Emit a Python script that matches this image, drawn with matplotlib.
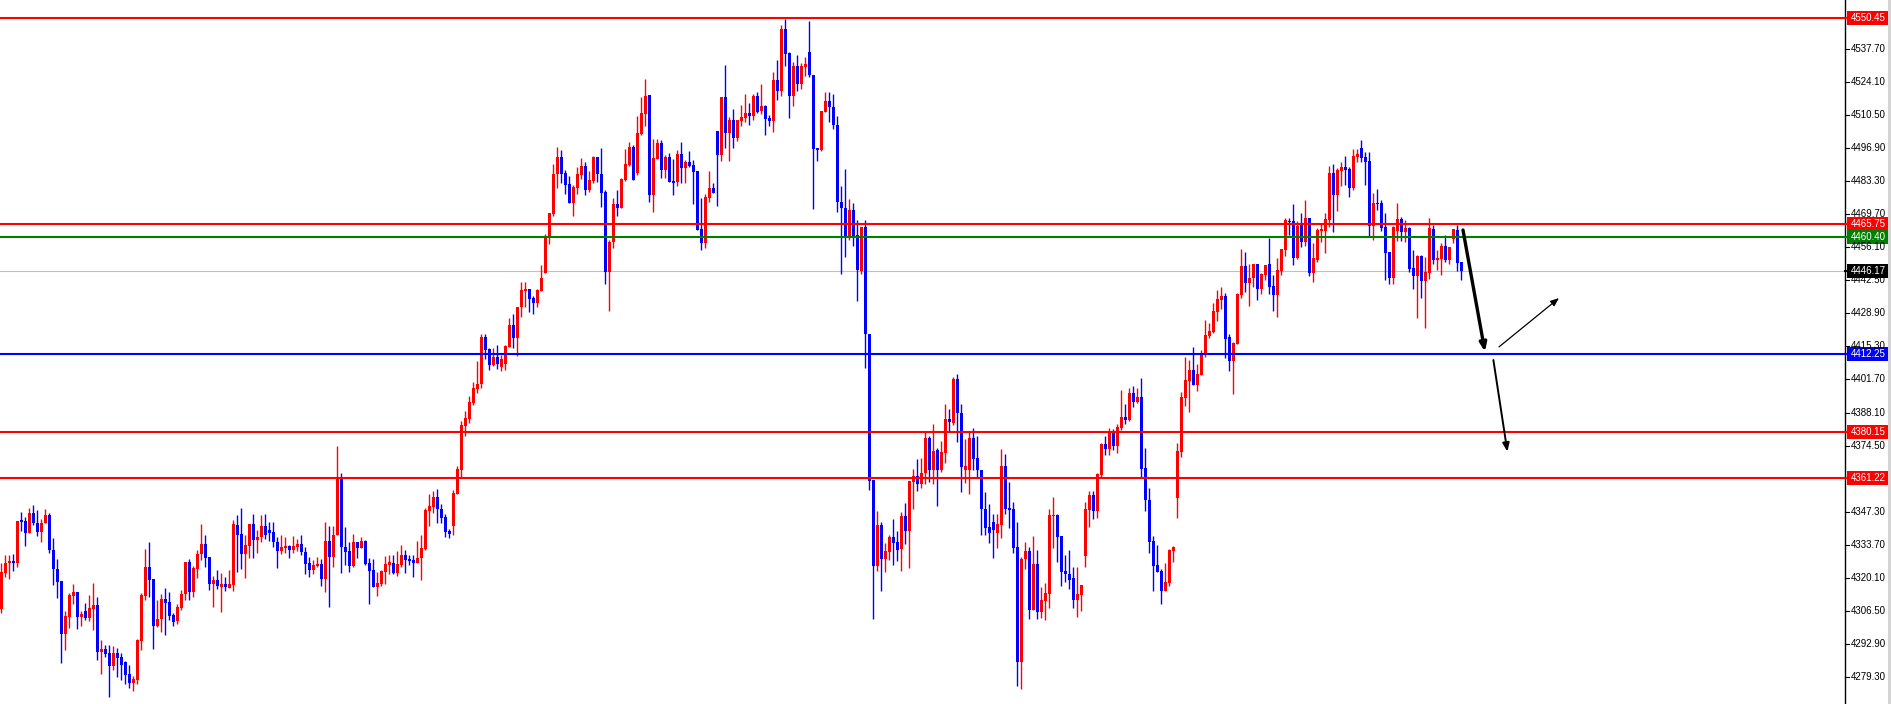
import matplotlib
matplotlib.use("Agg")
import matplotlib.pyplot as plt
from matplotlib.patches import Rectangle
from matplotlib.lines import Line2D

# ---------------- data ----------------
opens = [
4307.2,4322.2,4326.0,4327.0,4326.0,4343.5,4343.5,4338.7,4346.8,4342.8,
4339.1,4342.5,4345.9,4331.5,4323.6,4318.8,4297.0,4304.1,4312.7,4314.2,
4304.1,4306.4,4303.7,4307.2,4308.9,4289.7,4290.8,4289.1,4283.9,4289.1,
4287.5,4285.6,4280.5,4276.8,4278.0,4294.2,4312.7,4324.5,4319.6,4300.4,
4303.0,4311.4,4310.3,4304.8,4302.3,4307.5,4313.6,4326.6,4314.4,4323.8,
4329.7,4334.0,4328.8,4317.7,4319.0,4316.4,4317.5,4316.0,4317.2,4341.8,
4338.1,4330.0,4333.3,4342.2,4335.8,4336.7,4341.4,4339.8,4338.9,4334.9,
4331.3,4332.5,4333.3,4331.5,4332.8,4334.0,4330.7,4326.2,4323.2,4325.0,
4325.8,4319.7,4335.2,4328.8,4337.7,4361.3,4332.9,4331.1,4325.1,4334.7,
4332.5,4335.2,4326.0,4323.3,4316.4,4317.5,4322.6,4325.4,4326.0,4322.2,
4325.4,4329.5,4327.9,4327.4,4326.3,4328.1,4332.0,4347.7,4349.4,4353.3,
4348.5,4345.2,4339.3,4341.5,4354.7,4364.5,4382.7,4385.6,4392.2,4397.9,
4399.8,4419.3,4414.2,4407.8,4410.8,4407.0,4408.0,4415.2,4424.1,4418.9,
4431.4,4438.3,4438.8,4435.4,4433.3,4438.2,4445.7,4460.0,4469.8,4486.1,
4493.3,4486.7,4482.1,4474.5,4480.5,4486.0,4489.5,4479.7,4483.5,4493.3,
4486.4,4478.8,4445.8,4458.1,4473.9,4472.4,4483.8,4490.1,4497.2,4486.8,
4502.9,4510.9,4518.6,4477.6,4492.4,4499.0,4487.9,4493.4,4483.4,4482.8,
4494.5,4488.7,4491.2,4490.1,4487.5,4463.6,4457.8,4476.5,4480.5,4503.9,
4494.1,4517.9,4503.3,4508.5,4501.1,4508.1,4509.3,4511.4,4510.1,4518.4,
4512.2,4514.2,4509.4,4508.1,4524.9,4520.4,4545.9,4536.0,4518.5,4530.7,
4523.4,4530.4,4536.5,4527.0,4496.9,4496.3,4511.9,4516.4,4514.0,4506.5,
4474.6,4472.4,4460.7,4471.5,4461.0,4446.4,4464.3,4420.6,4360.4,4325.0,
4341.8,4328.0,4330.7,4336.8,4334.8,4332.0,4345.4,4339.2,4359.7,4362.0,
4358.8,4363.3,4377.6,4364.5,4372.6,4364.5,4371.5,4385.3,4383.7,4401.9,
4388.1,4364.5,4364.5,4377.6,4369.3,4364.5,4348.6,4340.8,4342.9,4338.7,
4342.0,4366.1,4348.9,4348.4,4332.7,4285.6,4327.8,4331.1,4307.0,4325.9,
4306.1,4310.7,4313.5,4345.5,4346.1,4337.4,4323.0,4321.8,4320.0,4311.1,
4313.1,4329.2,4348.1,4354.2,4347.7,4362.5,4375.3,4373.2,4380.1,4374.5,
4381.9,4386.2,4385.1,4396.1,4392.6,4394.5,4365.3,4352.2,4335.2,4325.3,
4323.0,4314.8,4318.1,4331.1,4353.1,4372.0,4394.2,4401.2,4405.6,4399.6,
4403.5,4412.2,4419.6,4421.4,4429.6,4434.4,4436.0,4419.2,4409.4,4416.4,
4436.6,4448.4,4441.5,4443.5,4449.2,4439.1,4444.8,4449.2,4440.2,4436.6,
4446.5,4455.0,4467.1,4466.9,4451.8,4465.3,4458.4,4468.1,4445.6,4451.0,
4462.9,4462.8,4467.5,4486.7,4477.6,4487.5,4489.1,4488.3,4480.6,4493.4,
4497.0,4493.2,4491.6,4465.0,4474.3,4474.3,4464.4,4454.2,4443.6,4462.8,
4467.7,4462.5,4464.2,4447.6,4444.4,4452.5,4442.4,4445.6,4463.6,4451.0,
4451.3,4456.6,4451.0,4459.6,4463.2,4450.1]

highs = [
4326.0,4329.5,4329.5,4329.9,4343.5,4347.0,4345.2,4348.7,4350.0,4348.0,
4344.1,4348.3,4346.6,4336.3,4327.8,4318.8,4306.4,4313.7,4317.5,4314.2,
4306.4,4309.6,4313.0,4317.9,4312.3,4294.5,4292.6,4292.6,4292.0,4291.1,
4289.0,4285.8,4284.2,4279.7,4295.0,4313.7,4332.1,4335.0,4319.6,4311.0,
4313.4,4316.0,4314.4,4305.5,4309.2,4315.1,4326.6,4327.8,4325.1,4331.5,
4342.2,4337.7,4328.8,4320.8,4323.3,4321.9,4320.3,4323.3,4343.9,4345.9,
4348.7,4337.7,4342.2,4346.3,4339.8,4345.9,4346.3,4342.9,4343.0,4336.9,
4337.7,4337.0,4333.6,4337.3,4336.1,4337.7,4332.8,4328.6,4327.4,4328.8,
4327.7,4343.0,4341.4,4341.4,4374.3,4363.4,4341.1,4335.0,4338.1,4335.0,
4337.0,4335.6,4328.1,4327.8,4322.6,4323.3,4329.2,4329.5,4329.5,4331.3,
4333.6,4331.5,4329.5,4329.5,4335.4,4337.7,4348.7,4354.6,4355.9,4356.5,
4350.5,4346.3,4340.3,4356.4,4366.1,4384.6,4388.7,4394.9,4400.5,4409.4,
4420.3,4420.5,4414.6,4414.5,4415.9,4411.8,4415.9,4427.1,4428.7,4431.7,
4442.0,4442.0,4438.8,4436.0,4439.1,4448.8,4461.6,4470.2,4490.4,4497.2,
4496.1,4487.9,4485.4,4481.6,4489.0,4492.7,4491.1,4487.5,4493.8,4493.3,
4497.0,4479.7,4459.1,4476.5,4479.7,4484.5,4496.4,4499.4,4498.2,4510.3,
4517.9,4525.4,4518.9,4500.5,4500.8,4500.2,4493.9,4495.0,4492.4,4496.1,
4499.4,4492.0,4495.6,4492.0,4487.5,4476.2,4478.0,4487.4,4482.4,4503.9,
4517.9,4531.1,4509.8,4513.0,4508.5,4514.6,4519.2,4515.5,4519.2,4520.1,
4523.3,4514.6,4510.5,4528.2,4533.2,4547.4,4550.0,4536.3,4532.3,4535.2,
4531.8,4534.5,4549.2,4527.0,4496.9,4512.2,4520.1,4520.1,4519.1,4510.2,
4481.4,4488.4,4476.0,4474.4,4467.4,4464.6,4467.4,4420.6,4360.4,4347.5,
4343.0,4334.3,4337.6,4344.3,4339.5,4347.0,4350.8,4360.1,4364.9,4368.9,
4369.3,4380.1,4378.4,4383.2,4373.4,4376.3,4391.5,4389.7,4402.7,4403.9,
4391.8,4377.1,4380.1,4381.7,4378.4,4364.5,4355.5,4350.3,4346.3,4346.3,
4373.1,4371.0,4359.5,4351.3,4343.0,4328.8,4334.8,4332.8,4337.4,4331.5,
4316.3,4317.9,4348.4,4353.3,4346.5,4337.4,4329.5,4331.5,4324.7,4324.7,
4317.1,4351.3,4355.9,4355.9,4363.4,4375.7,4378.4,4381.7,4381.3,4383.4,
4397.4,4391.7,4398.2,4399.0,4398.2,4402.3,4373.5,4357.0,4337.4,4333.6,
4323.7,4326.3,4331.9,4333.3,4375.7,4396.7,4411.0,4409.7,4415.0,4408.1,
4413.8,4426.2,4424.8,4433.3,4438.5,4439.6,4437.1,4420.4,4417.2,4437.1,
4455.3,4454.3,4449.2,4449.2,4449.2,4445.4,4448.9,4459.9,4444.7,4451.5,
4455.4,4468.1,4468.1,4473.9,4466.9,4470.2,4475.6,4468.1,4457.7,4464.2,
4465.5,4470.2,4489.5,4490.2,4488.6,4491.1,4493.7,4489.1,4496.5,4496.5,
4500.2,4495.3,4495.3,4478.4,4479.9,4475.6,4470.2,4454.2,4465.0,4474.3,
4468.6,4467.3,4464.6,4455.0,4452.9,4452.9,4452.2,4468.2,4465.3,4455.0,
4458.0,4461.3,4456.4,4463.8,4465.4,4450.1]

lows = [
4305.5,4320.6,4319.5,4323.0,4324.7,4339.3,4333.3,4338.7,4341.8,4337.3,
4335.0,4342.5,4330.4,4317.3,4311.6,4285.2,4290.4,4299.6,4309.3,4299.2,
4300.4,4302.7,4302.4,4298.6,4286.3,4280.5,4287.6,4271.2,4282.1,4279.4,
4278.0,4276.2,4274.6,4273.6,4276.4,4290.4,4311.0,4312.3,4290.8,4300.0,
4297.9,4296.6,4302.7,4300.4,4301.2,4306.8,4311.0,4311.0,4312.3,4320.1,
4327.4,4324.7,4315.1,4308.2,4315.5,4306.2,4314.8,4315.7,4314.8,4322.6,
4323.7,4320.1,4328.4,4328.4,4330.2,4335.0,4336.1,4335.4,4332.9,4324.3,
4329.7,4330.4,4328.4,4330.4,4331.1,4329.5,4321.8,4320.6,4321.5,4324.7,
4316.9,4314.4,4308.2,4324.7,4337.7,4321.9,4325.4,4322.6,4324.4,4328.4,
4332.5,4325.4,4309.2,4316.4,4312.6,4316.9,4317.5,4321.5,4321.6,4320.8,
4324.4,4322.2,4325.4,4320.5,4326.0,4319.2,4331.5,4341.5,4346.9,4342.8,
4342.5,4336.7,4336.3,4337.8,4354.7,4361.7,4378.4,4383.9,4391.2,4396.0,
4398.3,4410.0,4405.6,4407.2,4405.9,4405.0,4405.5,4414.9,4414.5,4411.5,
4427.6,4431.7,4429.6,4428.5,4431.4,4438.2,4445.7,4457.6,4469.0,4480.6,
4482.4,4478.0,4474.5,4469.1,4477.9,4484.3,4477.8,4479.0,4482.6,4483.1,
4472.8,4441.0,4430.0,4455.7,4469.1,4472.4,4483.4,4489.5,4483.8,4485.7,
4502.3,4506.1,4474.9,4470.8,4492.3,4484.8,4484.5,4482.8,4477.6,4481.4,
4482.4,4482.4,4489.3,4473.9,4463.2,4455.0,4455.7,4474.9,4478.3,4473.1,
4491.6,4497.1,4491.6,4497.1,4499.8,4505.9,4507.5,4506.4,4508.6,4511.5,
4510.8,4502.3,4506.0,4503.4,4516.8,4518.2,4530.7,4509.3,4514.4,4520.5,
4521.1,4526.7,4526.3,4471.8,4491.6,4495.9,4511.9,4507.5,4504.7,4470.8,
4445.1,4452.1,4458.9,4456.6,4433.8,4445.2,4406.5,4356.3,4303.1,4322.9,
4314.8,4322.6,4327.5,4325.4,4327.1,4322.9,4334.0,4324.2,4348.3,4356.0,
4357.1,4358.8,4359.6,4358.8,4349.8,4363.7,4367.4,4380.1,4382.9,4376.0,
4355.5,4359.2,4354.4,4364.5,4361.7,4337.6,4337.6,4334.5,4328.4,4332.5,
4336.6,4346.3,4340.7,4330.4,4275.7,4274.2,4323.6,4303.3,4307.0,4303.3,
4303.7,4302.9,4307.8,4332.5,4326.7,4316.8,4318.2,4315.6,4307.8,4304.1,
4306.5,4324.5,4341.1,4344.4,4344.8,4361.7,4370.7,4370.7,4372.8,4371.6,
4380.9,4383.2,4384.5,4390.5,4392.2,4361.7,4347.7,4330.1,4314.8,4322.6,
4309.3,4314.8,4316.8,4326.7,4344.8,4369.9,4390.9,4388.4,4399.6,4397.1,
4403.5,4411.1,4418.6,4420.7,4425.9,4430.6,4410.4,4405.2,4395.9,4416.4,
4435.1,4437.8,4432.0,4439.6,4434.4,4436.9,4442.6,4436.7,4430.0,4427.5,
4444.8,4452.6,4461.2,4448.8,4451.3,4456.4,4456.6,4444.4,4441.9,4450.2,
4458.4,4453.9,4464.3,4462.5,4471.2,4481.3,4481.7,4476.9,4479.7,4491.2,
4491.2,4481.7,4460.5,4459.2,4471.6,4463.0,4442.8,4441.1,4441.1,4458.8,
4458.8,4458.4,4446.1,4438.9,4427.1,4435.4,4423.0,4443.2,4449.4,4446.9,
4444.8,4450.0,4449.4,4458.0,4446.3,4442.8]

closes = [
4322.6,4326.0,4327.0,4326.0,4343.5,4343.2,4338.7,4346.8,4342.5,4339.1,
4342.8,4345.9,4331.5,4323.6,4318.5,4297.0,4304.4,4313.0,4314.2,4304.1,
4305.2,4303.7,4307.7,4308.9,4289.7,4290.8,4288.7,4283.9,4289.1,4287.2,
4284.2,4280.1,4276.8,4278.4,4294.5,4313.0,4324.5,4319.2,4300.4,4303.1,
4311.4,4309.9,4304.3,4302.0,4307.9,4313.4,4326.6,4314.2,4324.3,4329.9,
4334.0,4328.4,4317.7,4319.0,4316.9,4317.5,4316.2,4317.5,4342.2,4337.8,
4330.0,4333.6,4342.2,4335.8,4337.0,4341.4,4337.7,4338.7,4334.7,4331.3,
4332.8,4333.3,4331.7,4333.3,4334.0,4330.7,4325.9,4323.2,4325.4,4325.8,
4319.7,4335.2,4328.8,4337.7,4361.3,4332.9,4330.8,4325.1,4334.7,4332.5,
4335.2,4325.8,4323.0,4316.4,4318.1,4322.9,4325.8,4326.6,4322.2,4325.8,
4329.5,4327.4,4327.1,4326.3,4328.4,4332.5,4348.0,4349.6,4353.3,4348.3,
4344.8,4339.1,4338.2,4355.0,4364.9,4383.0,4386.0,4392.4,4398.3,4399.8,
4419.3,4413.8,4407.8,4410.8,4408.1,4410.0,4415.6,4424.1,4418.9,4431.4,
4438.5,4438.8,4435.0,4433.3,4438.5,4443.3,4460.5,4470.2,4486.1,4493.3,
4486.4,4481.9,4474.5,4480.9,4486.3,4489.5,4479.7,4483.8,4493.4,4486.3,
4478.6,4445.8,4458.4,4473.9,4472.4,4484.2,4490.4,4497.2,4483.8,4503.1,
4511.2,4518.4,4477.6,4493.0,4499.0,4488.0,4493.4,4483.1,4482.5,4494.5,
4488.7,4491.2,4489.7,4487.1,4463.2,4457.8,4476.8,4480.5,4478.6,4494.1,
4517.9,4503.3,4508.5,4501.1,4508.5,4509.7,4511.4,4510.1,4518.4,4511.6,
4514.2,4509.0,4508.1,4524.9,4520.4,4545.9,4535.8,4518.5,4530.7,4523.4,
4530.7,4531.5,4526.8,4496.5,4496.3,4512.2,4516.3,4514.0,4506.3,4474.6,
4472.1,4460.7,4471.5,4460.7,4446.9,4464.3,4420.6,4360.1,4325.0,4341.8,
4328.0,4331.1,4336.8,4334.5,4331.4,4345.4,4339.2,4360.1,4362.0,4358.8,
4363.3,4377.6,4364.5,4372.3,4364.5,4371.8,4385.3,4384.0,4401.9,4388.1,
4365.7,4366.1,4377.6,4369.0,4364.5,4348.6,4340.5,4338.6,4339.7,4342.4,
4366.1,4348.5,4348.1,4332.5,4285.6,4327.8,4331.1,4307.0,4325.9,4306.1,
4311.1,4313.8,4345.9,4346.1,4337.0,4322.6,4321.8,4319.3,4311.1,4313.6,
4317.1,4348.4,4354.2,4347.7,4362.9,4375.3,4373.2,4380.1,4374.5,4382.1,
4386.2,4385.0,4396.1,4392.6,4394.5,4365.0,4352.2,4334.9,4325.1,4322.6,
4314.8,4318.2,4331.5,4332.9,4372.3,4394.5,4401.5,4405.6,4399.6,4403.9,
4412.5,4420.0,4421.6,4430.0,4434.8,4436.0,4418.3,4409.4,4416.7,4436.9,
4448.4,4441.5,4443.5,4449.2,4439.1,4445.1,4448.8,4439.9,4436.6,4446.6,
4455.4,4467.3,4466.5,4451.8,4464.9,4458.4,4468.1,4445.6,4451.7,4463.2,
4463.6,4467.7,4486.7,4477.6,4487.9,4489.1,4487.9,4480.6,4493.7,4494.5,
4492.8,4491.2,4465.0,4474.3,4474.0,4464.2,4453.7,4443.6,4464.4,4467.7,
4462.5,4464.2,4447.3,4444.4,4452.5,4442.4,4445.9,4464.2,4451.0,4451.7,
4456.6,4450.9,4456.4,4463.5,4449.8,4446.17]

# horizontal levels drawn on the chart
level_prices = [4550.45, 4465.75, 4460.40, 4412.25, 4380.15, 4361.22]
level_colors = ["#FF0000", "#FF0000", "#008000", "#0000FF", "#FF0000", "#FF0000"]
current_price = 4446.17

# right price-scale labels
tick_labels = ["4537.70", "4524.10", "4510.50", "4496.90", "4483.30", "4469.70",
               "4456.10", "4442.50", "4428.90", "4415.30", "4401.70", "4388.10",
               "4374.50", "4347.30", "4333.70", "4320.10", "4306.50", "4292.90",
               "4279.30"]

# hand-drawn arrows: (bar index, price) start -> end, line width
arrow_starts = [(365.4, 4463.2), (374.4, 4415.1), (373.0, 4409.7)]
arrow_ends = [(370.9, 4413.1), (389.4, 4435.2), (376.5, 4372.0)]
arrow_widths = [2.4, 0.9, 1.4]

# ---------------- figure ----------------
W, H = 1891, 704
AX_R = 1845  # pixel where the price scale starts
fig = plt.figure(figsize=(W / 100, H / 100), dpi=100)
fig.patch.set_facecolor("white")
ax = fig.add_axes([0, 0, AX_R / W, 1])
Y_LO, Y_HI = 4268.15, 4557.86
ax.set_xlim(-0.33, 460.9)
ax.set_ylim(Y_LO, Y_HI)
for s in ax.spines.values():
    s.set_visible(False)
ax.set_xticks([])
ax.set_yticks([])

RED, BLUE = "#FF0000", "#0000FF"
xs = list(range(len(opens)))
cols = [RED if c >= o else BLUE for o, c in zip(opens, closes)]
hi = [max(h, o, c) for h, o, c in zip(highs, opens, closes)]
lo = [min(l, o, c) for l, o, c in zip(lows, opens, closes)]
ax.vlines(xs, lo, hi, colors=cols, linewidth=1.0, zorder=3)
bottoms = [min(o, c) for o, c in zip(opens, closes)]
heights = [max(abs(c - o), 0.5) for o, c in zip(opens, closes)]
ax.bar(xs, heights, bottom=bottoms, width=0.8, color=cols, linewidth=0, zorder=4)

# level lines
ax.axhline(current_price, color="#C0C0C0", linewidth=0.8, zorder=1)
for p, c in zip(level_prices, level_colors):
    ax.axhline(p, color=c, linewidth=1.5, zorder=5)

# arrows
for (x0, y0), (x1, y1), lw in zip(arrow_starts, arrow_ends, arrow_widths):
    ax.annotate("", xy=(x1, y1), xytext=(x0, y0),
                arrowprops=dict(arrowstyle="-|>,head_length=0.5,head_width=0.2",
                                color="black", lw=lw, shrinkA=0, shrinkB=0),
                zorder=6)

# price scale
def yfig(p):
    return (p - Y_LO) / (Y_HI - Y_LO)

fig.add_artist(Line2D([AX_R / W, AX_R / W], [0, 1], color="black", lw=1.0))
FS = 7.0
FAM = ["Liberation Sans", "DejaVu Sans"]
for t in tick_labels:
    y = yfig(float(t))
    fig.add_artist(Line2D([AX_R / W, (AX_R + 4) / W], [y, y], color="black", lw=0.8))
    fig.text((AX_R + 6) / W, y, t, fontsize=FS, va="center", ha="left",
             color="black", family=FAM)

box_prices = level_prices + [current_price]
box_colors = level_colors + ["#000000"]
for p, c in zip(box_prices, box_colors):
    y = yfig(p)
    fig.add_artist(Line2D([AX_R / W, (AX_R + 3) / W], [y, y], color=c, lw=1.5))
    fig.add_artist(Rectangle(((AX_R + 1.5) / W, y - 7 / H), (W - 3 - AX_R - 1.5) / W,
                             14 / H, transform=fig.transFigure, facecolor=c,
                             edgecolor="none"))
    fig.text((AX_R + 6) / W, y, f"{p:.2f}", fontsize=FS, va="center", ha="left",
             color="white", family=FAM)

fig.add_artist(Rectangle(((W - 3) / W, 0), 3 / W, 1, transform=fig.transFigure,
                         facecolor="#D4D4D4", edgecolor="none"))

fig.savefig("out.png", dpi=100, facecolor="white")
